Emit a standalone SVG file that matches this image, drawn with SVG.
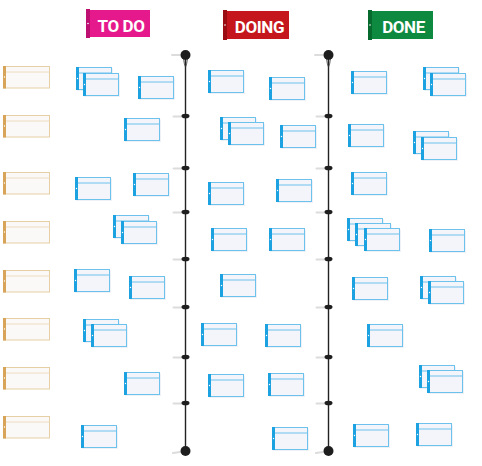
<svg xmlns="http://www.w3.org/2000/svg" xmlns:xlink="http://www.w3.org/1999/xlink" width="482" height="466" viewBox="0 0 482 466">
<style>
.hdr{font-family:Roboto,"Liberation Sans",sans-serif;font-weight:bold;font-size:17px;letter-spacing:-0.4px;fill:#fff;text-anchor:middle}
.wire{stroke:#222;stroke-width:1.4;fill:none}
.loop{stroke:#333;stroke-width:0.8;fill:none}
.knot{fill:#1e1e1e}
.shade{stroke:#dcdcdc;stroke-width:2;stroke-linecap:round}
</style>
<defs>
<g id="card">
<rect x="1" y="1.5" width="36" height="22.5" fill="#eef2f6"/>
<rect x="0.5" y="0.5" width="35" height="22" fill="#f4f4fb" stroke="#6cc2ec" stroke-width="1"/>
<line x1="3" y1="6" x2="35.5" y2="6" stroke="#6cc2ec" stroke-width="1"/>
<rect x="0" y="0" width="3" height="23" fill="#1ca2e0"/>
<circle cx="1.5" cy="11.5" r="0.7" fill="#fff"/>
</g>
<g id="tan">
<rect x="0.5" y="0.5" width="46" height="21.5" fill="#fbf9f7" stroke="#e6cfa4" stroke-width="1"/>
<line x1="3" y1="6" x2="46.5" y2="6" stroke="#ecdcc0" stroke-width="1"/>
<rect x="0" y="0" width="3" height="22.5" fill="#d7a45a"/>
<circle cx="1.5" cy="11" r="0.7" fill="#fff"/>
</g>
<g id="knot">
<line class="shade" x1="-12" y1="0.5" x2="-4" y2="0.5"/>
<ellipse class="knot" cx="0" cy="0" rx="4" ry="2.3"/>
</g>
</defs>
<rect width="482" height="466" fill="#fff"/>

<g id="header-todo">
<rect x="87" y="10" width="63" height="27" fill="#e5198c"/>
<rect x="86" y="9" width="4" height="29" fill="#bd0f72"/>
<circle cx="88" cy="23.5" r="0.8" fill="#fff"/>
<text class="hdr" x="121" y="32">TO DO</text>
</g>
<g id="header-doing">
<rect x="224" y="11" width="65" height="28" fill="#c4161c"/>
<rect x="223" y="10" width="4" height="30" fill="#9a0e13"/>
<circle cx="225" cy="25" r="0.8" fill="#fff"/>
<text class="hdr" x="259.5" y="33">DOING</text>
</g>
<g id="header-done">
<rect x="369" y="11" width="64" height="28" fill="#0d8a3f"/>
<rect x="368" y="10" width="4" height="30" fill="#066a2e"/>
<circle cx="370" cy="25" r="0.8" fill="#fff"/>
<text class="hdr" x="403.5" y="33">DONE</text>
</g>

<g id="connectors">
<g id="wire-1">
<line class="shade" x1="172" y1="55" x2="180" y2="55"/>
<line class="wire" x1="185.5" y1="58" x2="185.5" y2="451"/>
<path class="loop" d="M183.5 58 Q184 64 185.5 67 Q187 64 187.5 58"/>
<circle class="knot" cx="185.5" cy="55" r="5"/>
<use href="#knot" x="185.5" y="116"/>
<use href="#knot" x="185.5" y="168"/>
<use href="#knot" x="185.5" y="212"/>
<use href="#knot" x="185.5" y="259"/>
<use href="#knot" x="185.5" y="307"/>
<use href="#knot" x="185.5" y="357"/>
<use href="#knot" x="185.5" y="403"/>
<line class="shade" x1="173" y1="453" x2="180" y2="452"/>
<circle class="knot" cx="185.5" cy="451" r="5"/>
</g>
<g id="wire-2">
<line class="shade" x1="315" y1="55" x2="323" y2="55"/>
<line class="wire" x1="328.5" y1="58" x2="328.5" y2="451"/>
<path class="loop" d="M326.5 58 Q327 64 328.5 67 Q330 64 330.5 58"/>
<circle class="knot" cx="328.5" cy="55" r="5"/>
<use href="#knot" x="328.5" y="116"/>
<use href="#knot" x="328.5" y="168"/>
<use href="#knot" x="328.5" y="212"/>
<use href="#knot" x="328.5" y="259"/>
<use href="#knot" x="328.5" y="307"/>
<use href="#knot" x="328.5" y="357"/>
<use href="#knot" x="328.5" y="403"/>
<line class="shade" x1="316" y1="453" x2="323" y2="452"/>
<circle class="knot" cx="328.5" cy="451" r="5"/>
</g>
</g>

<g id="backlog">
<use href="#tan" x="3" y="66"/>
<use href="#tan" x="3" y="115"/>
<use href="#tan" x="3" y="172"/>
<use href="#tan" x="3" y="221"/>
<use href="#tan" x="3" y="270"/>
<use href="#tan" x="3" y="318"/>
<use href="#tan" x="3" y="367"/>
<use href="#tan" x="3" y="416"/>
</g>

<g id="todo">
<use href="#card" x="76" y="67"/>
<use href="#card" x="83" y="73"/>
<use href="#card" x="138" y="76"/>
<use href="#card" x="124" y="118"/>
<use href="#card" x="75" y="177"/>
<use href="#card" x="133" y="173"/>
<use href="#card" x="113" y="215"/>
<use href="#card" x="121" y="221"/>
<use href="#card" x="74" y="269"/>
<use href="#card" x="129" y="276"/>
<use href="#card" x="83" y="319"/>
<use href="#card" x="91" y="324"/>
<use href="#card" x="124" y="372"/>
<use href="#card" x="81" y="425"/>
</g>

<g id="doing">
<use href="#card" x="208" y="70"/>
<use href="#card" x="269" y="77"/>
<use href="#card" x="220" y="117"/>
<use href="#card" x="228" y="122"/>
<use href="#card" x="280" y="125"/>
<use href="#card" x="208" y="182"/>
<use href="#card" x="276" y="179"/>
<use href="#card" x="211" y="228"/>
<use href="#card" x="269" y="228"/>
<use href="#card" x="220" y="274"/>
<use href="#card" x="201" y="323"/>
<use href="#card" x="265" y="324"/>
<use href="#card" x="208" y="374"/>
<use href="#card" x="268" y="373"/>
<use href="#card" x="272" y="427"/>
</g>

<g id="done">
<use href="#card" x="351" y="71"/>
<use href="#card" x="423" y="67"/>
<use href="#card" x="430" y="73"/>
<use href="#card" x="348" y="124"/>
<use href="#card" x="413" y="131"/>
<use href="#card" x="421" y="137"/>
<use href="#card" x="351" y="172"/>
<use href="#card" x="347" y="218"/>
<use href="#card" x="355" y="223"/>
<use href="#card" x="364" y="228"/>
<use href="#card" x="429" y="229"/>
<use href="#card" x="352" y="277"/>
<use href="#card" x="420" y="276"/>
<use href="#card" x="428" y="281"/>
<use href="#card" x="367" y="324"/>
<use href="#card" x="419" y="365"/>
<use href="#card" x="427" y="370"/>
<use href="#card" x="353" y="424"/>
<use href="#card" x="416" y="423"/>
</g>
</svg>
